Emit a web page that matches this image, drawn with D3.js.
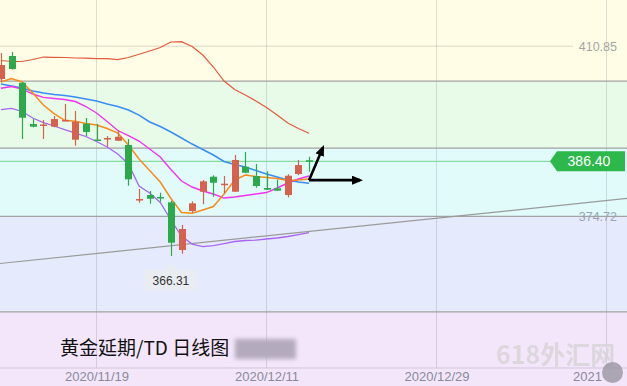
<!DOCTYPE html>
<html>
<head>
<meta charset="utf-8">
<script src="https://cdn.jsdelivr.net/npm/d3@7"></script>
<style>
  body { margin: 0; background: #fff; }
  svg { display: block; font-family: "Liberation Sans", Arial, sans-serif; }
</style>
</head>
<body>
<script>
var width = 627,
    height = 386;

// daily candles, gold T+D (red = up, green = down)
var dates = ["2020/11/06","2020/11/09","2020/11/10","2020/11/11","2020/11/12","2020/11/13","2020/11/16","2020/11/17","2020/11/18","2020/11/19",
             "2020/11/20","2020/11/23","2020/11/24","2020/11/25","2020/11/26","2020/11/27","2020/11/30","2020/12/01","2020/12/02","2020/12/03",
             "2020/12/04","2020/12/07","2020/12/08","2020/12/09","2020/12/10","2020/12/11","2020/12/14","2020/12/15","2020/12/16","2020/12/17"];
var open  = [403.88, 408.77, 403.09, 394.32, 394.05, 393.75, 394.96, 390.99, 394.39, 391.03, 391.07, 390.77, 389.86, 378.24, 379.24,
             378.82, 377.69, 367.56, 375.84, 379.94, 383.13, 381.47, 379.94, 385.25, 383.28, 380.73, 380.66, 379.24, 383.70, 386.62];
var high  = [409.40, 409.62, 403.20, 395.38, 395.17, 396.02, 398.57, 397.08, 395.60, 394.32, 391.77, 393.05, 391.14, 380.52, 380.09,
             379.73, 378.03, 372.87, 377.90, 382.43, 383.43, 383.28, 387.74, 388.38, 385.83, 384.27, 382.49, 383.64, 386.68, 387.38];
var low   = [403.24, 405.90, 391.14, 393.62, 391.14, 393.62, 394.90, 389.71, 391.77, 390.82, 389.50, 390.71, 381.22, 377.61, 377.39,
             377.82, 366.31, 366.77, 375.48, 377.27, 378.88, 379.60, 379.88, 383.91, 380.79, 380.30, 380.09, 378.75, 383.49, 384.19];
var close = [406.85, 406.00, 395.66, 393.75, 394.22, 395.38, 395.17, 394.81, 392.62, 390.86, 391.35, 391.62, 382.58, 378.39, 378.45,
             378.65, 369.11, 372.02, 377.48, 382.15, 381.85, 381.64, 386.68, 383.98, 381.15, 380.37, 380.16, 383.34, 385.61, 386.40];

// indicator lines
var upperLine  = [407.81, 407.60, 407.60, 408.02, 408.55, 408.49, 408.45, 408.34, 408.30, 408.23, 408.19, 408.02, 408.45, 409.13, 409.83,
                  410.57, 411.74, 411.80, 410.78, 408.98, 406.43, 403.46, 401.65, 400.48, 399.21, 397.83, 396.23, 394.53, 393.37, 392.35];
var blueLine   = [402.82, 402.39, 401.97, 401.33, 400.91, 400.59, 400.37, 400.06, 399.63, 399.21, 398.57, 398.04, 397.30, 396.23, 394.75,
                  393.79, 392.62, 391.35, 390.07, 388.91, 387.74, 386.36, 385.72, 385.19, 384.45, 383.70, 383.07, 382.43, 382.00, 381.73];
var pinkLine   = [401.91, 402.29, 401.76, 400.69, 399.99, 399.74, 399.53, 399.10, 398.04, 396.66, 394.85, 392.94, 391.88, 390.71, 389.01,
                  387.31, 384.66, 382.22, 380.94, 380.09, 379.45, 378.60, 378.82, 379.14, 379.45, 379.77, 380.73, 381.79, 382.64, 383.28];
var orangeLine = [403.24, 403.99, 403.24, 400.91, 398.36, 396.55, 395.11, 394.92, 394.43, 394.11, 393.37, 392.41, 389.86, 386.89, 384.44,
                  382.00, 378.50, 375.52, 375.35, 376.06, 376.80, 379.45, 382.43, 383.49, 383.17, 382.96, 382.75, 382.32, 382.43, 382.64];
var lowerLine  = [397.40, 397.66, 396.98, 395.60, 394.64, 393.90, 393.15, 392.41, 391.67, 390.61, 389.44, 387.95, 385.83, 381.15, 379.67,
                  377.65, 373.93, 370.53, 368.83, 368.30, 368.47, 368.94, 369.37, 369.58, 369.68, 369.90, 370.11, 370.43, 370.85, 371.24];

// price levels
var bandLevels = [403.45, 389.2, 374.72, 354.4];
var resistance = 410.85, support = 374.72, lastPrice = 386.40, lowestPrice = 366.31;
var trendPoints = [[0, 364.71], [58, 378.29]];

// analyst arrows [index, price]
var arrowStart = [29, 382.4];
var arrowEnds = [[33.8, 382.4], [30.3, 389.3]];

// x axis ticks (the last one is hidden behind the logo, only the year shows)
var tickIndex = [9, 25, 41, 57];
var tickLabels = ["2020/11/19", "2020/12/11", "2020/12/29", "2021"];

var title = "黄金延期/TD 日线图";

var x = d3.scaleLinear().domain([0, 58]).range([0.9, 617.15]);
var y = d3.scaleLinear().domain([374.72, 410.85]).range([216.3, 46.2]);

var axisY = 368;

var svg = d3.select("body").append("svg")
    .attr("width", width)
    .attr("height", height);

var defs = svg.append("defs");
defs.append("filter").attr("id", "blur")
    .attr("x", "-30%").attr("y", "-30%").attr("width", "160%").attr("height", "160%")
  .append("feGaussianBlur").attr("stdDeviation", 2.2);
defs.append("marker").attr("id", "head")
    .attr("markerUnits", "userSpaceOnUse")
    .attr("markerWidth", 11).attr("markerHeight", 9)
    .attr("refX", 8).attr("refY", 4.5)
    .attr("orient", "auto")
  .append("path").attr("d", "M0,0 L11,4.5 L0,9 Z").attr("fill", "#000");

// background colour bands
var bandColors = ["#fffde6", "#e7fbe8", "#e0fbfa", "#e5ebfc", "#f3e6fb"];
var edges = [0].concat(bandLevels.map(y)).concat([height]);
svg.append("g").selectAll("rect")
    .data(bandColors)
    .enter().append("rect")
    .attr("x", 0)
    .attr("y", function(d, i) { return edges[i]; })
    .attr("width", width)
    .attr("height", function(d, i) { return edges[i + 1] - edges[i]; })
    .attr("fill", function(d) { return d; });

// vertical grid lines at the date ticks
svg.append("g").selectAll("line")
    .data(tickIndex)
    .enter().append("line")
    .attr("x1", function(d) { return x(d); })
    .attr("x2", function(d) { return x(d); })
    .attr("y1", 0)
    .attr("y2", axisY)
    .attr("stroke", "rgba(110,110,130,0.22)");

// resistance level line
svg.append("line")
    .attr("x1", 0).attr("x2", 573)
    .attr("y1", y(resistance)).attr("y2", y(resistance))
    .attr("stroke", "rgba(110,110,110,0.25)");

// band edge lines
svg.append("g").selectAll("line")
    .data(bandLevels)
    .enter().append("line")
    .attr("x1", 0).attr("x2", width)
    .attr("y1", function(d) { return y(d); })
    .attr("y2", function(d) { return y(d); })
    .attr("stroke", "#a2a2a2")
    .attr("stroke-width", 1.3);

// last price line
svg.append("line")
    .attr("x1", 0).attr("x2", 551)
    .attr("y1", y(lastPrice)).attr("y2", y(lastPrice))
    .attr("stroke", "#86dc9e")
    .attr("stroke-width", 1.3);

// trend line extended to both edges
var slope = (trendPoints[1][1] - trendPoints[0][1]) / (trendPoints[1][0] - trendPoints[0][0]);
var trendAt = function(i) { return trendPoints[0][1] + (i - trendPoints[0][0]) * slope; };
var i0 = x.invert(0), i1 = x.invert(width);
svg.append("line")
    .attr("x1", 0).attr("y1", y(trendAt(i0)))
    .attr("x2", width).attr("y2", y(trendAt(i1)))
    .attr("stroke", "#9a9a9a")
    .attr("stroke-width", 1.2);

// axis line and date labels
svg.append("line")
    .attr("x1", 0).attr("x2", width)
    .attr("y1", axisY).attr("y2", axisY)
    .attr("stroke", "#cfc5da");

var xAxis = d3.axisBottom(x)
    .tickValues(tickIndex)
    .tickFormat(function(d, i) { return tickLabels[i]; })
    .tickSize(0)
    .tickPadding(4);

var gx = svg.append("g")
    .attr("transform", "translate(0," + axisY + ")")
    .call(xAxis);
gx.select(".domain").remove();
gx.selectAll("text")
    .attr("font-family", "Liberation Sans, Arial, sans-serif")
    .attr("font-size", 13)
    .attr("fill", "#878a99");
// the clipped year label starts where the full date label would start
gx.selectAll("text")
    .filter(function(d, i) { return i === tickLabels.length - 1; })
    .attr("text-anchor", "start")
    .attr("dx", -34);

// indicator lines
var line = d3.line()
    .x(function(d, i) { return x(i); })
    .y(function(d) { return y(d); })
    .curve(d3.curveLinear);

var series = [
    { values: upperLine, color: "#e25a3c", w: 1.2 },
    { values: lowerLine, color: "#a865f2", w: 1.3 },
    { values: blueLine, color: "#3a8df2", w: 1.5 },
    { values: pinkLine, color: "#f233ee", w: 1.4 },
    { values: orangeLine, color: "#f78a1e", w: 1.5 }
];

svg.append("g").selectAll("path")
    .data(series)
    .enter().append("path")
    .attr("d", function(d) { return line(d.values); })
    .attr("fill", "none")
    .attr("stroke", function(d) { return d.color; })
    .attr("stroke-width", function(d) { return d.w; });

// candles
var upColor = "#d6614d", downColor = "#2ca94a";
var candles = svg.append("g").selectAll("g")
    .data(dates)
    .enter().append("g");

candles.append("line")
    .attr("x1", function(d, i) { return Math.round(x(i)) + 0.5; })
    .attr("x2", function(d, i) { return Math.round(x(i)) + 0.5; })
    .attr("y1", function(d, i) { return y(high[i]); })
    .attr("y2", function(d, i) { return y(low[i]); })
    .attr("stroke", function(d, i) { return close[i] >= open[i] ? upColor : downColor; })
    .attr("stroke-width", 1.2);

candles.append("rect")
    .attr("x", function(d, i) { return Math.round(x(i)) - 3; })
    .attr("width", 7)
    .attr("y", function(d, i) { return y(Math.max(open[i], close[i])); })
    .attr("height", function(d, i) { return Math.max(1.5, Math.abs(y(open[i]) - y(close[i]))); })
    .attr("fill", function(d, i) { return close[i] >= open[i] ? upColor : downColor; });

// analyst arrows
svg.append("g").selectAll("line")
    .data(arrowEnds)
    .enter().append("line")
    .attr("x1", x(arrowStart[0]))
    .attr("y1", y(arrowStart[1]))
    .attr("x2", function(d) { return x(d[0]); })
    .attr("y2", function(d) { return y(d[1]); })
    .attr("stroke", "#000")
    .attr("stroke-width", 2.6)
    .attr("marker-end", "url(#head)");

// level labels on the right
svg.append("text")
    .attr("x", 617).attr("y", y(resistance) + 4.5)
    .attr("text-anchor", "end")
    .attr("font-size", 12.5)
    .attr("fill", "#a6a6a6")
    .text(resistance.toFixed(2));

svg.append("text")
    .attr("x", 617).attr("y", y(support) + 4.5)
    .attr("text-anchor", "end")
    .attr("font-size", 12.5)
    .attr("fill", "#9aa3b5")
    .text(support.toFixed(2));

// last price tag
var py = y(lastPrice);
svg.append("path")
    .attr("d", "M550," + py + " L557," + (py - 10) + " L625," + (py - 10) + " L625," + (py + 10) + " L557," + (py + 10) + " Z")
    .attr("fill", "#2db84b");
svg.append("text")
    .attr("x", 589).attr("y", py + 5)
    .attr("text-anchor", "middle")
    .attr("font-size", 14)
    .attr("fill", "#fff")
    .text(lastPrice.toFixed(2));

// lowest price tag
var lowIdx = low.indexOf(lowestPrice);
var lx = x(lowIdx), ly = y(lowestPrice);
svg.append("path")
    .attr("d", "M" + (lx - 6) + "," + (ly + 14) + " L" + lx + "," + (ly + 7) + " L" + (lx + 6) + "," + (ly + 14) + " Z")
    .attr("fill", "#e9edf1");
svg.append("rect")
    .attr("x", lx - 27).attr("y", ly + 14)
    .attr("width", 54).attr("height", 21)
    .attr("rx", 3)
    .attr("fill", "#e9edf1");
svg.append("text")
    .attr("x", lx).attr("y", ly + 29)
    .attr("text-anchor", "middle")
    .attr("font-size", 12)
    .attr("fill", "#333")
    .text(lowestPrice.toFixed(2));

// title and blurred tag
svg.append("text")
    .attr("x", 60).attr("y", 355)
    .attr("font-family", "Noto Sans CJK SC, sans-serif")
    .attr("font-size", 19)
    .attr("fill", "#111")
    .text(title);
svg.append("rect")
    .attr("x", 235).attr("y", 339)
    .attr("width", 61).attr("height", 20)
    .attr("fill", "#b4aabd")
    .attr("filter", "url(#blur)");

// watermark
svg.append("text")
    .attr("x", 496).attr("y", 364)
    .attr("font-family", "Noto Sans CJK SC, sans-serif")
    .attr("font-weight", "bold")
    .attr("font-size", 25)
    .attr("fill", "#d8d4d8")
    .attr("opacity", 0.85)
    .text("618外汇网");
svg.append("circle")
    .attr("cx", 612.5).attr("cy", 372.5).attr("r", 10.5)
    .attr("fill", "#9c9aa6")
    .attr("opacity", 0.85);
</script>
</body>
</html>
